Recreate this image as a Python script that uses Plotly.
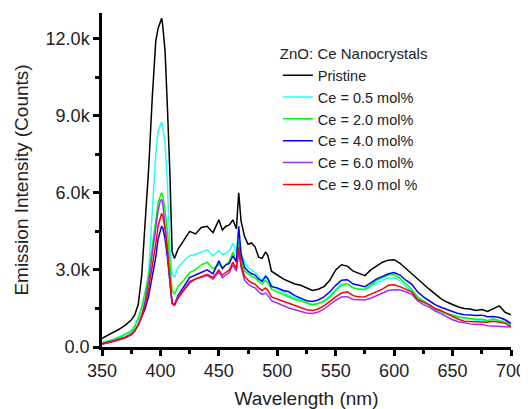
import plotly.graph_objects as go

wavelength = [350, 355, 360, 365, 370, 375, 378, 381, 384, 387, 390, 393, 396, 398, 400, 401, 402, 404, 406, 408,
              410, 412, 415, 420, 425, 430, 435, 440, 445, 450, 453, 456, 459, 462, 465, 467, 469, 472, 475, 478,
              481, 484, 487, 490, 492, 495, 500, 505, 510, 515, 520, 525, 530, 535, 540, 545, 550, 555, 560, 565,
              570, 575, 580, 585, 590, 595, 600, 605, 610, 615, 620, 625, 630, 635, 640, 645, 650, 655, 660, 665,
              670, 675, 680, 685, 690, 695, 700]

pristine = [340, 450, 560, 700, 850, 1050, 1250, 1650, 2800, 4700, 7000, 9700, 11900, 12400, 12700, 12800, 12500, 11500, 9300, 6900,
            3700, 3450, 3800, 4150, 4500, 4400, 4650, 4700, 4450, 4950, 4550, 4700, 4750, 4950, 4600, 6000, 4900, 4300, 4000, 4050,
            3900, 3500, 3450, 3700, 3550, 2950, 2800, 2650, 2550, 2450, 2400, 2300, 2200, 2250, 2350, 2600, 3000, 3200, 3150, 2950,
            2850, 2780, 3000, 3150, 3300, 3380, 3400, 3260, 3050, 2870, 2650, 2450, 2250, 2050, 1880, 1750, 1640, 1560, 1500, 1480,
            1420, 1460, 1380, 1500, 1600, 1350, 1250]

ce_05 = [170, 230, 300, 400, 500, 650, 850, 1150, 1500, 1900, 3000, 5200, 7500, 8400, 8700, 8750, 8600, 7900, 6300, 3900,
         2850, 2700, 3100, 3350, 3550, 3600, 3700, 3780, 3550, 3750, 3600, 3650, 3750, 4050, 3650, 4600, 3700, 3300, 3100, 3000,
         2900, 2750, 2600, 2800, 2700, 2400, 2250, 2150, 2000, 1920, 1850, 1700, 1650, 1700, 1800, 2000, 2250, 2450, 2450, 2300,
         2250, 2220, 2350, 2500, 2600, 2680, 2700, 2560, 2350, 2150, 1900, 1750, 1600, 1450, 1350, 1280, 1230, 1150, 1120, 1100,
         1050, 1050, 1000, 1080, 1000, 950, 860]

ce_20 = [150, 210, 280, 370, 470, 600, 780, 1100, 1550, 2200, 2800, 3900, 5000, 5600, 5900, 6000, 5900, 5300, 4500, 3300,
         2200, 2050, 2350, 2600, 2900, 3000, 3200, 3300, 3050, 3200, 3100, 3200, 3350, 3700, 3350, 4100, 3400, 2950, 2850, 2750,
         2700, 2550, 2450, 2600, 2500, 2250, 2150, 2050, 1950, 1850, 1800, 1720, 1650, 1680, 1780, 1950, 2200, 2400, 2450, 2300,
         2250, 2250, 2400, 2600, 2700, 2800, 2820, 2680, 2450, 2250, 1950, 1800, 1650, 1480, 1380, 1300, 1250, 1180, 1150, 1120,
         1080, 1080, 1030, 1100, 1020, 980, 880]

ce_40 = [120, 170, 220, 300, 380, 500, 650, 850, 1150, 1500, 2000, 2700, 3500, 4200, 4600, 4700, 4650, 4200, 3500, 2500,
         1700, 1650, 2000, 2350, 2700, 2800, 2900, 3000, 2850, 3350, 3050, 3200, 3250, 3550, 3300, 4700, 3600, 3100, 2950, 2850,
         2800, 2650, 2550, 2750, 2650, 2350, 2300, 2200, 2150, 2000, 1900, 1800, 1770, 1830, 1950, 2150, 2400, 2600, 2620, 2450,
         2400, 2350, 2500, 2650, 2750, 2850, 2900, 2800, 2600, 2450, 2150, 1950, 1800, 1650, 1550, 1450, 1380, 1300, 1260, 1250,
         1230, 1240, 1180, 1190, 1150, 1060, 920]

ce_60 = [110, 160, 210, 280, 360, 470, 620, 880, 1250, 1800, 2600, 3600, 4700, 5300, 5700, 5750, 5600, 4800, 3800, 2600,
         1700, 1630, 1950, 2250, 2550, 2650, 2700, 2780, 2650, 2930, 2700, 2800, 2900, 3200, 2950, 3700, 3100, 2600, 2450, 2350,
         2300, 2150, 2050, 2100, 2000, 1800, 1700, 1620, 1520, 1450, 1380, 1320, 1300, 1360, 1480, 1650, 1820, 1950, 1960, 1850,
         1830, 1830, 1900, 2000, 2100, 2200, 2230, 2220, 2150, 2050, 1800, 1650, 1550, 1400, 1300, 1180, 1060, 980, 930, 900,
         880, 880, 830, 820, 810, 800, 780]

ce_90 = [130, 180, 230, 300, 380, 480, 620, 850, 1200, 1650, 2300, 3100, 4000, 4700, 5100, 5200, 5100, 4600, 3700, 2600,
         1700, 1620, 1900, 2200, 2500, 2650, 2750, 2830, 2700, 3000, 2800, 2900, 3000, 3300, 3050, 3900, 3200, 2750, 2600, 2500,
         2450, 2300, 2200, 2300, 2200, 1950, 1850, 1780, 1700, 1620, 1550, 1450, 1420, 1480, 1600, 1780, 1950, 2100, 2150, 2000,
         1950, 1960, 2050, 2150, 2250, 2400, 2420, 2350, 2250, 2150, 1850, 1750, 1650, 1500, 1420, 1300, 1180, 1080, 1000, 990,
         980, 990, 960, 1000, 950, 920, 790]

series_names = ["Pristine", "Ce = 0.5 mol%", "Ce = 2.0 mol%", "Ce = 4.0 mol%", "Ce = 6.0 mol%", "Ce = 9.0 mol %"]
series_values = [pristine, ce_05, ce_20, ce_40, ce_60, ce_90]
series_colors = ["#000000", "#22ffff", "#00ff00", "#0000ff", "#9932ff", "#ff0000"]

y_tickvals = [0, 3000, 6000, 9000, 12000]
y_ticktext = ["0.0", "3.0k", "6.0k", "9.0k", "12.0k"]
x_tickvals = [350, 400, 450, 500, 550, 600, 650, 700]

fig = go.Figure()
for name, vals, col in zip(series_names, series_values, series_colors):
    fig.add_trace(go.Scatter(x=wavelength, y=vals, mode="lines", name=name,
                             line=dict(color=col, width=1.5)))

font_family = "Liberation Sans, Arial, sans-serif"
text_color = "#222222"

# the page body has an 8px default margin, so the figure is sized to fit the 528x409 window
fig.update_layout(
    width=520, height=401,
    margin=dict(l=94, r=17, t=5, b=62),
    paper_bgcolor="white", plot_bgcolor="white",
    font=dict(family=font_family, color=text_color),
    legend=dict(
        title=dict(text="ZnO: Ce Nanocrystals", font=dict(size=15, family=font_family, color=text_color)),
        font=dict(size=14.5, family=font_family, color=text_color),
        x=0.43, y=0.92, xanchor="left", yanchor="top",
        bgcolor="rgba(255,255,255,0)", tracegroupgap=0,
    ),
    showlegend=True,
)

fig.update_xaxes(
    range=[350, 700], tickvals=x_tickvals, showgrid=False, zeroline=False, automargin=False,
    showline=True, linecolor="black", linewidth=2.5,
    ticks="outside", ticklen=6, tickwidth=2.5, tickcolor="black",
    tickfont=dict(size=18, family=font_family, color=text_color),
    minor=dict(dtick=25, tick0=350, ticks="outside", ticklen=4, tickwidth=2.5, tickcolor="black"),
    title=dict(text="Wavelength (nm)", font=dict(size=19, family=font_family, color=text_color), standoff=12),
)
fig.update_yaxes(
    range=[0, 13000], tickvals=y_tickvals, ticktext=y_ticktext, showgrid=False, zeroline=False, automargin=False,
    showline=True, linecolor="black", linewidth=2.5,
    ticks="outside", ticklen=6, tickwidth=2.5, tickcolor="black",
    tickfont=dict(size=18, family=font_family, color=text_color),
    minor=dict(dtick=1500, tick0=0, ticks="outside", ticklen=4, tickwidth=2.5, tickcolor="black"),
    title=dict(text="Emission Intensity (Counts)", font=dict(size=19, family=font_family, color=text_color), standoff=12),
)

fig.write_html("out.html")
